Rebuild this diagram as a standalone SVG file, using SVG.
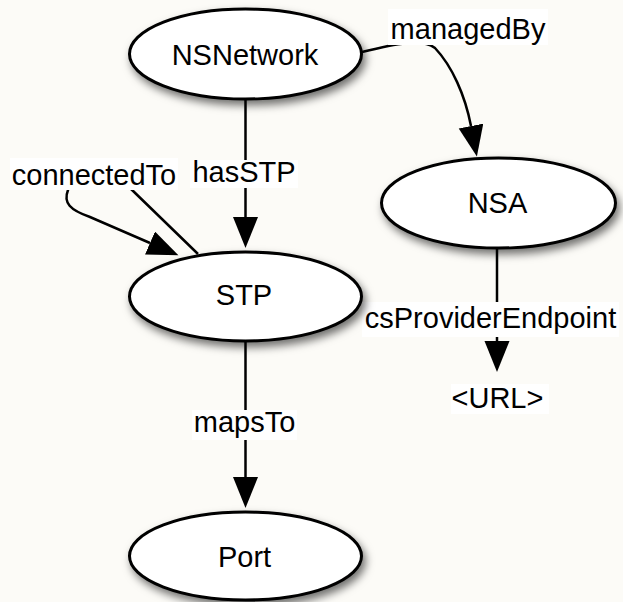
<svg xmlns="http://www.w3.org/2000/svg" width="623" height="602" viewBox="0 0 623 602">
  <style>
    .node ellipse { fill: #ffffff; stroke: #000000; stroke-width: 3; filter: url(#shadow); }
    text { font-family: "Liberation Sans", Arial, Helvetica, sans-serif; font-size: 29px; fill: #000000; text-anchor: middle; }
    .edge { fill: none; stroke: #000000; stroke-width: 2.5; marker-end: url(#arrow); }
    .plain { fill: none; stroke: #000000; stroke-width: 2.5; }
    .lbl { fill: #ffffff; stroke: none; }
  </style>
  <defs>
    <filter id="shadow" x="-20%" y="-30%" width="150%" height="170%">
      <feDropShadow dx="3" dy="5" stdDeviation="4" flood-color="#000000" flood-opacity="0.55"/>
    </filter>
    <marker id="arrow" markerUnits="userSpaceOnUse" markerWidth="32" markerHeight="26" refX="0" refY="12.5" orient="auto">
      <path d="M0,0 L31,12.5 L0,25 Z" fill="#000000"/>
    </marker>
  </defs>

  <rect x="0" y="0" width="623" height="602" fill="#fcfbf7"/>

  <!-- connectors -->
  <g id="edges">
    <g id="edge-hasSTP">
      <line class="edge" x1="245.5" y1="99" x2="245.5" y2="217"/>
      <rect class="lbl" x="190" y="160" width="108" height="28"/>
      <text x="244" y="182">hasSTP</text>
    </g>
    <g id="edge-mapsTo">
      <line class="edge" x1="245.5" y1="341" x2="245.5" y2="477"/>
      <rect class="lbl" x="192" y="410" width="105" height="30"/>
      <text x="244.5" y="432">mapsTo</text>
    </g>
    <g id="edge-csProviderEndpoint">
      <line class="edge" x1="497" y1="248" x2="497" y2="341"/>
      <rect class="lbl" x="362" y="302" width="257" height="35"/>
      <text x="490.5" y="328">csProviderEndpoint</text>
    </g>
    <g id="edge-managedBy">
      <path class="edge" d="M362,52 C395,44 422,38 435,48 C452,66 465,95 471,126"/>
      <rect class="lbl" x="388" y="9" width="160" height="36"/>
      <text x="468" y="39">managedBy</text>
    </g>
    <g id="edge-connectedTo">
      <path class="edge" d="M198,254 L130,188 C110,168 75,170 68,190 C63,203 70,210 90,217 L150,243"/>
      <rect class="lbl" x="10" y="158" width="168" height="32"/>
      <text x="94" y="185">connectedTo</text>
    </g>
  </g>

  <!-- nodes -->
  <g id="node-NSNetwork" class="node">
    <ellipse cx="245.5" cy="54" rx="116" ry="45"/>
    <text x="245" y="65">NSNetwork</text>
  </g>
  <g id="node-STP" class="node">
    <ellipse cx="245.5" cy="296.5" rx="116" ry="44.5"/>
    <text x="244" y="305">STP</text>
  </g>
  <g id="node-Port" class="node">
    <ellipse cx="245.5" cy="556" rx="116" ry="44"/>
    <text x="244.5" y="567">Port</text>
  </g>
  <g id="node-NSA" class="node">
    <ellipse cx="498.5" cy="203" rx="117" ry="45"/>
    <text x="497.5" y="213">NSA</text>
  </g>
  <g id="node-URL">
    <rect class="lbl" x="451" y="384" width="98" height="30"/>
    <text x="497.5" y="408">&lt;URL&gt;</text>
  </g>
</svg>
